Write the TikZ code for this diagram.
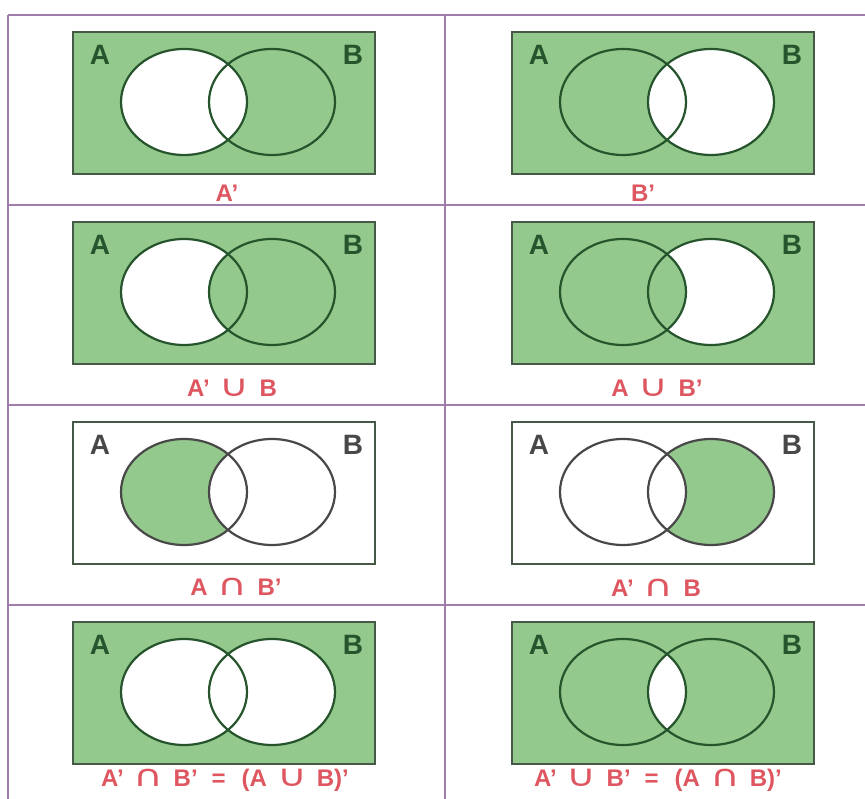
\documentclass[tikz,border=0pt]{standalone}
\usepackage{fontspec}
\setmainfont{Liberation Sans}
\newfontfamily\symfont{DejaVu Sans}

\definecolor{vennfill}{RGB}{148,201,141}
\definecolor{ringgreen}{RGB}{38,84,44}
\definecolor{ringgray}{RGB}{72,72,72}
\definecolor{boxline}{RGB}{70,88,70}
\definecolor{gridpurple}{RGB}{160,124,172}
\definecolor{labelred}{RGB}{222,86,96}

\tikzset{
  grid line/.style={draw=gridpurple, line width=2.4pt},
  universe/.style={draw=boxline, line width=2pt},
  set ring/.style={line width=2.2pt},
  set name/.style={font=\bfseries\fontsize{28}{28}\selectfont, inner sep=0pt},
  op label/.style={font=\bfseries\fontsize{24}{24}\selectfont, text=labelred, inner sep=0pt},
}

\newcommand{\vennA}{(111,70) ellipse [x radius=63pt, y radius=53pt]}
\newcommand{\vennB}{(199,70) ellipse [x radius=63pt, y radius=53pt]}
\newcommand{\ucup}{\hspace{10pt}\scalebox{1.7}[1.25]{\symfont\mdseries ∪}\hspace{10pt}}
\newcommand{\ucap}{\hspace{10pt}\scalebox{1.7}[1.25]{\symfont\mdseries ∩}\hspace{10pt}}
\newcommand{\ueq}{\hspace{14pt}=\hspace{16pt}}

% universe box at (#2,#3), box fill #4, ring colour #5, shading #6
\newcommand{\venncell}[6]{%
  \begin{scope}[shift={(#2,#3)}]
    \fill[#4] (0,0) rectangle (302,142);
    #6
    \draw[set ring, draw=#5] \vennA;
    \draw[set ring, draw=#5] \vennB;
    \draw[universe] (0,0) rectangle (302,142);
    \node[set name, text=#5] (#1A) at (27,23) {A};
    \node[set name, text=#5] (#1B) at (280,23) {B};
  \end{scope}}

\begin{document}
\begin{tikzpicture}[x=1pt, y=-1pt]
\useasboundingbox (0,0) rectangle (865,799);

% table lines
\draw[grid line] (8,15) -- (865,15);
\draw[grid line] (8,205) -- (865,205);
\draw[grid line] (8,405) -- (865,405);
\draw[grid line] (8,605) -- (865,605);
\draw[grid line] (8,15) -- (8,799);
\draw[grid line] (445,15) -- (445,799);

% row 1
\venncell{p}{73}{32}{vennfill}{ringgreen}{\fill[white] \vennA;}
\venncell{q}{512}{32}{vennfill}{ringgreen}{\fill[white] \vennB;}
\node[op label] (lp) at (227,193) {A’};
\node[op label] (lq) at (643,193) {B’};

% row 2
\venncell{r}{73}{222}{vennfill}{ringgreen}{\fill[white] \vennA; \fill[vennfill] \vennB;}
\venncell{s}{512}{222}{vennfill}{ringgreen}{\fill[white] \vennB; \fill[vennfill] \vennA;}
\node[op label] (lr) at (232,388) {A’\ucup B};
\node[op label] (ls) at (657,388) {A\ucup B’};

% row 3
\venncell{t}{73}{422}{white}{ringgray}{\fill[vennfill] \vennA; \fill[white] \vennB;}
\venncell{u}{512}{422}{white}{ringgray}{\fill[vennfill] \vennB; \fill[white] \vennA;}
\node[op label] (lt) at (236,587) {A\ucap B’};
\node[op label] (lu) at (656,588) {A’\ucap B};

% row 4
\venncell{v}{73}{622}{vennfill}{ringgreen}{\fill[white] \vennA; \fill[white] \vennB;}
\venncell{w}{512}{622}{vennfill}{ringgreen}{\begin{scope}\clip \vennA; \fill[white] \vennB;\end{scope}}
\node[op label] (lv) at (225,780) {A’\ucap B’\ueq(A\ucup B)’};
\node[op label] (lw) at (658,780) {A’\ucup B’\ueq(A\ucap B)’};

\end{tikzpicture}
\end{document}
